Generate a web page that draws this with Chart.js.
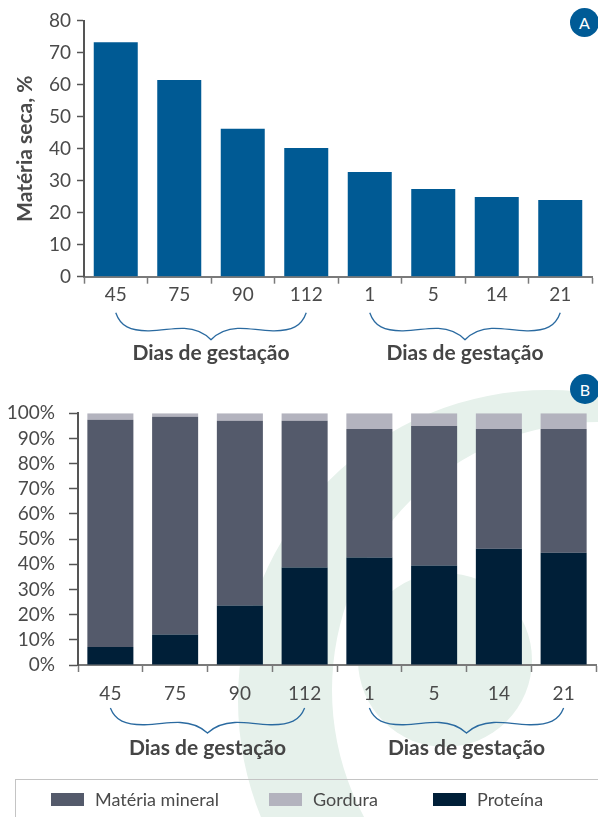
<!DOCTYPE html>
<html>
<head>
<meta charset="utf-8">
<script src="https://cdn.jsdelivr.net/npm/chart.js@4.4.1/dist/chart.umd.min.js"></script>
<style>
html,body{margin:0;padding:0;background:#fff;}
body{width:598px;height:817px;position:relative;overflow:hidden;font-family:Lato,sans-serif;}
#bg{position:absolute;left:0;top:0;}
#cA{position:absolute;left:0;top:0;}
#cB{position:absolute;left:0;top:370px;}
.badge{position:absolute;border-radius:50%;background:#005b96;color:#fff;font:16px Lato,sans-serif;display:flex;align-items:center;justify-content:center;}
#legend{position:absolute;left:15px;top:779px;width:600px;height:60px;border:1px solid #c4c4c4;box-sizing:border-box;}
.sw{position:absolute;top:13px;width:33px;height:13px;}
.lt{position:absolute;top:8px;font:18px Lato,sans-serif;color:#4a4a4a;line-height:22px;white-space:nowrap;}
</style>
</head>
<body>
<canvas id="bg" width="598" height="817"></canvas>
<canvas id="cA" width="598" height="370"></canvas>
<canvas id="cB" width="598" height="410"></canvas>
<div class="badge" style="left:570px;top:8px;width:29px;height:29px;">A</div>
<div class="badge" style="left:570px;top:374px;width:30px;height:30px;">B</div>
<div id="legend"></div>
<script>
// ---- data ----
const CATEGORIES = ['45', '75', '90', '112', '1', '5', '14', '21'];
const GROUP_LABEL = 'Dias de gestação';
const GROUP_RANGES = [[0, 3], [4, 7]];
const MATERIA_SECA = [73.3, 61.5, 46.2, 40.2, 32.7, 27.4, 24.9, 24.0];
const PROTEINA = [7.2, 12.1, 23.6, 38.7, 42.7, 39.5, 46.2, 44.6];
const MATERIA_MINERAL = [90.2, 86.5, 73.4, 58.3, 51.1, 55.5, 47.6, 49.2];
const GORDURA = [2.6, 1.4, 3.0, 3.0, 6.2, 5.0, 6.2, 6.2];
const Y_TITLE_A = 'Matéria seca, %';
const LEGEND_ORDER = ['Matéria mineral', 'Gordura', 'Proteína'];

// ---- styles ----
const C_BLUE = '#005a94';
const C_MINERAL = '#545a6b';
const C_GORDURA = '#b3b3be';
const C_PROTEINA = '#001f38';
const TXT = '#4a4a4a';

Chart.defaults.font.family = 'Lato, sans-serif';
Chart.defaults.animation = false;

// watermark
(function(){
  const g = document.getElementById('bg').getContext('2d');
  g.fillStyle = '#e6f1eb';
  g.beginPath();
  g.arc(548, 700, 310, 0, Math.PI * 2);
  g.arc(600, 690, 268, 0, Math.PI * 2);
  g.fill('evenodd');
  g.beginPath();
  g.arc(445, 660, 87, 0, Math.PI * 2);
  g.fill();
})();

function drawBrace(ctx, x0, x1, y, d) {
  const xm = (x0 + x1) / 2, h = xm - x0;
  ctx.beginPath();
  ctx.moveTo(x0, y);
  ctx.bezierCurveTo(x0 + 0.05*h, y + 0.5*d, x0 + 0.15*h, y + 0.68*d, x0 + 0.35*h, y + 0.67*d);
  ctx.bezierCurveTo(x0 + 0.5*h, y + 0.66*d, x0 + 0.6*h, y + 0.56*d, x0 + 0.72*h, y + 0.58*d);
  ctx.bezierCurveTo(x0 + 0.85*h, y + 0.6*d, x0 + 0.93*h, y + 0.75*d, xm, y + d);
  ctx.bezierCurveTo(x1 - 0.93*h, y + 0.75*d, x1 - 0.85*h, y + 0.6*d, x1 - 0.72*h, y + 0.58*d);
  ctx.bezierCurveTo(x1 - 0.6*h, y + 0.56*d, x1 - 0.5*h, y + 0.66*d, x1 - 0.35*h, y + 0.67*d);
  ctx.bezierCurveTo(x1 - 0.15*h, y + 0.68*d, x1 - 0.05*h, y + 0.5*d, x1, y);
  ctx.stroke();
}

const bracePlugin = {
  id: 'braces',
  afterDraw(chart, args, opts) {
    const xs = chart.scales.x, ctx = chart.ctx;
    const base = xs.top;
    ctx.save();
    ctx.strokeStyle = '#2a6aa0';
    ctx.lineWidth = 1.3;
    ctx.fillStyle = '#454545';
    ctx.font = 'bold 21px Lato, sans-serif';
    ctx.textAlign = 'center';
    ctx.textBaseline = 'middle';
    GROUP_RANGES.forEach(([a, b]) => {
      const x0 = xs.getPixelForValue(a), x1 = xs.getPixelForValue(b);
      drawBrace(ctx, x0, x1, base + opts.top, opts.depth);
      ctx.fillText(GROUP_LABEL, (x0 + x1) / 2, base + opts.text);
    });
    ctx.restore();
  }
};

function xAxis(height, pad) {
  return {
    type: 'category', offset: true,
    grid: { offset: true, drawOnChartArea: false, drawTicks: true, tickLength: 7, tickColor: '#7a7a7a', tickWidth: 1.5 },
    border: { display: true, color: '#7a7a7a', width: 2 },
    ticks: { color: TXT, font: { size: 19 }, padding: pad, maxRotation: 0, autoSkip: false },
    afterFit(s) { s.height = height; }
  };
}

// ---- Chart A ----
new Chart(document.getElementById('cA'), {
  type: 'bar',
  data: {
    labels: CATEGORIES,
    datasets: [{ label: Y_TITLE_A, data: MATERIA_SECA, backgroundColor: C_BLUE, barPercentage: 0.693, categoryPercentage: 1 }]
  },
  options: {
    responsive: false, devicePixelRatio: 1,
    layout: { padding: { left: 0, right: 6, top: 20.7, bottom: 0 } },
    plugins: { legend: { display: false }, tooltip: { enabled: false },
      braces: { top: 36, depth: 27, text: 77 } },
    scales: {
      x: xAxis(93.3, 0),
      y: {
        min: 0, max: 80,
        ticks: { stepSize: 10, autoSkip: false, color: TXT, font: { size: 19 }, padding: 6 },
        grid: { drawOnChartArea: false, tickLength: 7, tickColor: '#555', tickWidth: 1.5 },
        border: { display: true, color: '#555', width: 2 },
        title: { display: true, text: Y_TITLE_A, color: TXT, font: { size: 21, weight: 'bold' }, padding: { top: 13, bottom: 0 } },
        afterFit(s) { s.width = 84; }
      }
    }
  },
  plugins: [bracePlugin]
});

// ---- Chart B ----
const DS_B = {
  'Proteína': { data: PROTEINA, color: C_PROTEINA },
  'Matéria mineral': { data: MATERIA_MINERAL, color: C_MINERAL },
  'Gordura': { data: GORDURA, color: C_GORDURA }
};
new Chart(document.getElementById('cB'), {
  type: 'bar',
  data: {
    labels: CATEGORIES,
    datasets: ['Proteína', 'Matéria mineral', 'Gordura'].map(k => ({
      label: k, data: DS_B[k].data, backgroundColor: DS_B[k].color,
      barPercentage: 0.711, categoryPercentage: 1
    }))
  },
  options: {
    responsive: false, devicePixelRatio: 1,
    layout: { padding: { left: 0, right: 2, top: 43.3, bottom: 0 } },
    plugins: { legend: { display: false }, tooltip: { enabled: false },
      braces: { top: 43, depth: 25, text: 83 } },
    scales: {
      x: Object.assign(xAxis(115, 10), { stacked: true }),
      y: {
        stacked: true, min: 0, max: 100,
        ticks: { stepSize: 10, autoSkip: false, color: TXT, font: { size: 19 }, padding: 14, callback: v => v + '%' },
        grid: { drawOnChartArea: false, tickLength: 9, tickColor: '#555', tickWidth: 1.5 },
        border: { display: true, color: '#555', width: 2 },
        afterFit(s) { s.width = 78; }
      }
    }
  },
  plugins: [bracePlugin]
});

// ---- legend ----
const LEG_SW_X = [35, 253, 417];
const leg = document.getElementById('legend');
LEGEND_ORDER.forEach((name, i) => {
  const sw = document.createElement('div');
  sw.className = 'sw';
  sw.style.left = LEG_SW_X[i] + 'px';
  sw.style.background = DS_B[name].color;
  leg.appendChild(sw);
  const t = document.createElement('div');
  t.className = 'lt';
  t.style.left = (LEG_SW_X[i] + 44) + 'px';
  t.textContent = name;
  leg.appendChild(t);
});
</script>
</body>
</html>
